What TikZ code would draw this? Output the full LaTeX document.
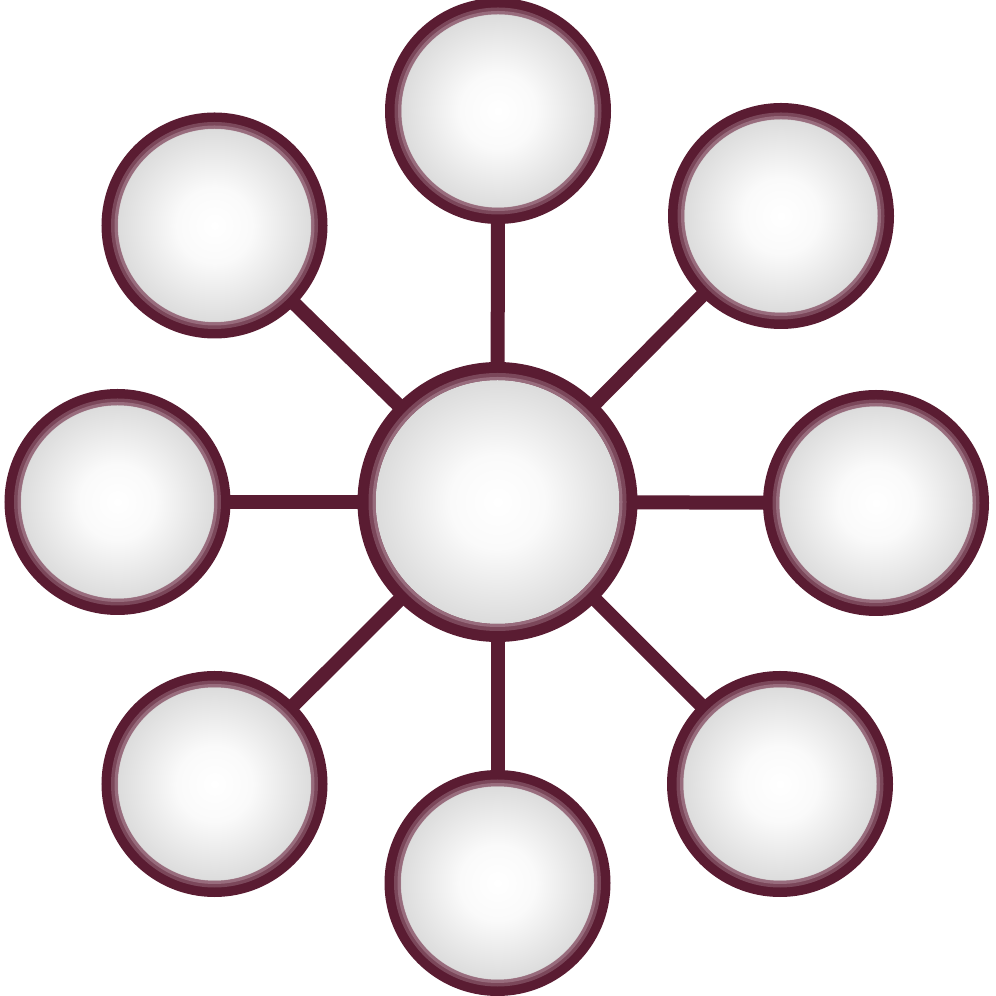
\documentclass[tikz,border=0pt]{standalone}
\usepackage{tikz}
\usepackage{color}
\usetikzlibrary{positioning}
\usetikzlibrary{backgrounds}

\definecolor{wine}{RGB}{90,28,50}
\definecolor{rose}{RGB}{165,125,140}
\pgfdeclareradialshading{glass}{\pgfpoint{0bp}{0bp}}{color(0bp)=(white); color(9bp)=(white!96!gray); color(24bp)=(gray!29); color(50bp)=(gray!29)}

\begin{document}
\begin{tikzpicture}[
    ball/.style = {circle, draw=wine, shading=glass, inner sep=0pt, outer sep=0pt},
    leaf/.style = {ball, line width=1.6mm, minimum size=21mm},
    hub/.style = {ball, line width=1.8mm, minimum size=26.2mm},
    glow/.style = {draw=rose, line width=0.7mm, opacity=0.45},
    rim/.style = {draw=rose, line width=0.3mm, opacity=0.7},
    spoke/.style = {draw=wine, line width=1.4mm}]
    \useasboundingbox (0,0) rectangle (9.96,9.96);

    \node[hub] (M) at (4.975,4.94) {};
    \node[leaf] (N) at (4.98,8.85) {};
    \node[leaf] (NE) at (7.81,7.80) {};
    \node[leaf] (E) at (8.76,4.93) {};
    \node[leaf] (SE) at (7.80,2.12) {};
    \node[leaf] (S) at (4.975,1.13) {};
    \node[leaf] (SW) at (2.145,2.12) {};
    \node[leaf] (W) at (1.175,4.94) {};
    \node[leaf] (NW) at (2.145,7.705) {};

    % light inner edge of each ring
    \draw[glow] (M.center) circle (12.55mm);
    \draw[rim] (M.center) circle (12.35mm);
    \foreach \n in {N,NE,E,SE,S,SW,W,NW} {
        \draw[glow] (\n.center) circle (10mm);
        \draw[rim] (\n.center) circle (9.85mm);
    }

    \begin{scope}[on background layer]
    \foreach \n in {N,NE,E,SE,S,SW,W,NW}
        \draw[spoke] (M) -- (\n);
    \end{scope}

\end{tikzpicture}
\end{document}
